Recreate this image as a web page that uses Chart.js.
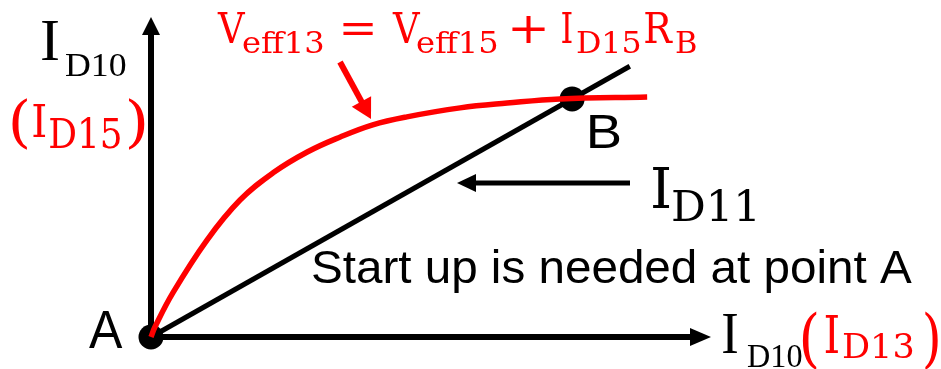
<!DOCTYPE html>
<html lang="en">

<head>
  <meta charset="UTF-8">
  <meta name="viewport" content="width=device-width, initial-scale=1.0">
  <title>Start up point</title>
  <script src="https://cdn.jsdelivr.net/npm/chart.js"></script>
  <style>
    html, body { margin: 0; padding: 0; background: #fff; }
    #box { width: 941px; height: 369px; }
  </style>
</head>

<body>
  <div id="box">
    <canvas id="grafico"></canvas>
  </div>

<script>

  // red curve: Veff13 = Veff15 + ID15*RB  (ID10 vs ID13)
  const curveX = [0, 0.7, 3.9, 10.0, 15.9, 21.8, 27.9, 33.8, 39.6, 45.7, 55.2, 63.6, 73.0, 88.6];
  const curveY = [0, 3.1, 13.8, 30.3, 42.8, 51.3, 57.8, 62.5, 66.3, 68.8, 71.6, 73.1, 74.4, 75.0];

  // black straight line (ID11)
  const lineX = [0, 85.5];
  const lineY = [0, 84.6];

  // operating points
  const pointNames = ['A', 'B'];
  const pointX = [0, 75.2];
  const pointY = [0, 74.4];

  const SERIF = '"Liberation Serif", "Times New Roman", serif';
  const MATH = '"DejaVu Serif", serif';
  const SANS = '"Liberation Sans", Arial, sans-serif';
  const RED = '#ff0000';

  function toXY(xs, ys) {
    let out = [];
    for (let i = 0; i < xs.length; i++) {
      out.push({ x: xs[i], y: ys[i] });
    }
    return out;
  }

  // draws text so its ink runs from x0 to x1
  function fitText(ctx, str, x0, x1, base, size, family, color) {
    ctx.font = size + 'px ' + family;
    ctx.textAlign = 'left';
    ctx.textBaseline = 'alphabetic';
    const m = ctx.measureText(str);
    const ink = m.actualBoundingBoxLeft + m.actualBoundingBoxRight;
    ctx.save();
    ctx.translate(x0, base);
    ctx.scale((x1 - x0) / ink, 1);
    ctx.fillStyle = color;
    ctx.fillText(str, m.actualBoundingBoxLeft, 0);
    ctx.restore();
  }

  function arrow(ctx, x0, y0, x1, y1, width, headLen, headHalf, color) {
    const ang = Math.atan2(y1 - y0, x1 - x0);
    const bx = x1 - Math.cos(ang) * headLen;
    const by = y1 - Math.sin(ang) * headLen;
    ctx.save();
    ctx.strokeStyle = color;
    ctx.fillStyle = color;
    ctx.lineWidth = width;
    ctx.lineCap = 'butt';
    ctx.beginPath();
    ctx.moveTo(x0, y0);
    ctx.lineTo(bx + Math.cos(ang) * 2, by + Math.sin(ang) * 2);
    ctx.stroke();
    ctx.beginPath();
    ctx.moveTo(x1, y1);
    ctx.lineTo(bx - Math.sin(ang) * headHalf, by + Math.cos(ang) * headHalf);
    ctx.lineTo(bx + Math.sin(ang) * headHalf, by - Math.cos(ang) * headHalf);
    ctx.closePath();
    ctx.fill();
    ctx.restore();
  }

  // axes with arrow heads, under the data
  const eixos = {
    id: 'eixos',
    beforeDatasetsDraw(chart) {
      const ctx = chart.ctx;
      const a = chart.chartArea;
      arrow(ctx, a.left, a.bottom + 3, a.left, a.top, 6, 18, 9, '#000');
      arrow(ctx, a.left - 3, a.bottom, a.right, a.bottom, 6, 21, 9, '#000');
    }
  };

  // labels and pointer arrows
  const textos = {
    id: 'textos',
    afterDatasetsDraw(chart) {
      const ctx = chart.ctx;
      const sx = chart.scales.x;
      const sy = chart.scales.y;

      // y axis label: ID10 (ID15)
      fitText(ctx, 'I', 42, 58, 60, 60, SERIF, '#000');
      fitText(ctx, 'D10', 65, 126, 76, 33, SERIF, '#000');
      fitText(ctx, '(', 12, 27, 141, 56, MATH, RED);
      fitText(ctx, 'I', 33, 45, 137, 44, MATH, RED);
      fitText(ctx, 'D15', 50, 120, 148, 41, MATH, RED);
      fitText(ctx, ')', 128, 145, 141, 56, MATH, RED);

      // x axis label: ID10 (ID13)
      fitText(ctx, 'I', 723, 737, 353, 60, SERIF, '#000');
      fitText(ctx, 'D10', 747, 802, 367, 33, SERIF, '#000');
      fitText(ctx, '(', 802, 817, 360, 63, MATH, RED);
      fitText(ctx, 'I', 825, 838, 353, 52, MATH, RED);
      fitText(ctx, 'D13', 843, 913, 358, 34, MATH, RED);
      fitText(ctx, ')', 925, 938, 360, 63, MATH, RED);

      // curve equation
      fitText(ctx, 'V', 217, 245, 43, 42, MATH, RED);
      fitText(ctx, 'eff13', 243, 323, 53, 29, MATH, RED);
      fitText(ctx, '=', 343, 373, 43, 42, MATH, RED);
      fitText(ctx, 'V', 392, 420, 43, 42, MATH, RED);
      fitText(ctx, 'eff15', 417, 497, 53, 29, MATH, RED);
      fitText(ctx, '+', 512, 545, 43, 42, MATH, RED);
      fitText(ctx, 'I', 562, 572, 43, 42, MATH, RED);
      fitText(ctx, 'D15', 577, 640, 53, 29, MATH, RED);
      fitText(ctx, 'R', 645, 673, 43, 42, MATH, RED);
      fitText(ctx, 'B', 676, 696, 53, 29, MATH, RED);
      arrow(ctx, 340, 62, 371, 119, 6, 20, 11, RED);

      // ID11 pointer
      arrow(ctx, 630, 183, 457, 183, 5, 19, 9, '#000');
      fitText(ctx, 'I', 653, 670, 208, 56, MATH, '#000');
      fitText(ctx, 'D11', 673, 755, 221, 42, MATH, '#000');

      fitText(ctx, 'Start up is needed at point A', 313, 912, 283, 46, SANS, '#000');

      // point names
      const ax = sx.getPixelForValue(pointX[0]);
      const ay = sy.getPixelForValue(pointY[0]);
      fitText(ctx, pointNames[0], ax - 62, ax - 28, ay + 11, 53, SANS, '#000');
      const bx = sx.getPixelForValue(pointX[1]);
      const by = sy.getPixelForValue(pointY[1]);
      fitText(ctx, pointNames[1], bx + 18, bx + 48, by + 49, 49, SANS, '#000');
    }
  };

  const config = {
    type: 'scatter',
    data: {
      datasets: [
        {
          data: toXY(curveX, curveY),
          showLine: true,
          borderColor: RED,
          borderWidth: 5.5,
          pointRadius: 0,
          tension: 0.4,
          clip: false
        },
        {
          data: toXY(lineX, lineY),
          showLine: true,
          borderColor: '#000',
          borderWidth: 5,
          pointRadius: 0,
          clip: false
        },
        {
          data: toXY(pointX, pointY),
          showLine: false,
          backgroundColor: '#000',
          borderColor: '#000',
          pointRadius: 12.5,
          borderWidth: 0,
          clip: false
        }
      ]
    },
    options: {
      responsive: true,
      maintainAspectRatio: false,
      animation: false,
      layout: {
        padding: { left: 151, right: 230, top: 17, bottom: 32 }
      },
      plugins: {
        legend: { display: false },
        tooltip: { enabled: false }
      },
      scales: {
        x: { type: 'linear', min: 0, max: 100, display: false },
        y: { type: 'linear', min: 0, max: 100, display: false }
      }
    },
    plugins: [eixos, textos]
  };

  let myChart = new Chart(document.getElementById('grafico'), config);

</script>
</body>

</html>
